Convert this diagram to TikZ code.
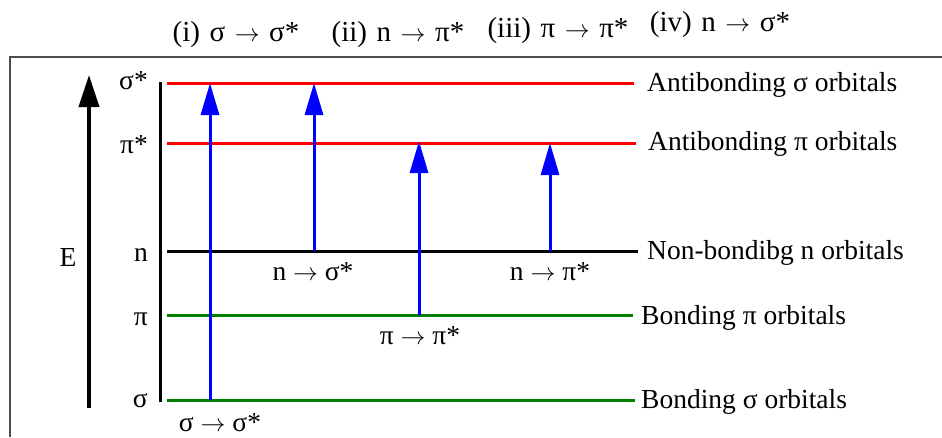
\documentclass[tikz,border=0pt]{standalone}
\usepackage{fontspec}
\setmainfont{Liberation Serif}
\usetikzlibrary{arrows.meta}
\newcommand\myarr{\ensuremath{\rightarrow}}
\newcommand\tgap{\hspace{0.33em}}
\begin{document}
\begin{tikzpicture}[x=1pt,y=-1pt,
  lbl/.style={font=\fontsize{27.5}{30}\selectfont, inner sep=0pt},
  toplbl/.style={font=\fontsize{29}{32}\selectfont, inner sep=0pt},
  lvl/.style={line width=3pt},
  trans/.style={blue, line width=3pt, -{Triangle[length=32pt,width=18pt]}},
  frame/.style={line width=2pt, black!70},
]
\useasboundingbox (0,0) rectangle (942,437);
% frame
\coordinate (fb) at (10,437);
\coordinate (fc) at (10,57);
\coordinate (fr) at (942,57);
\draw[frame] (fb) -- (fc) -- (fr);

% top labels
\node[toplbl] (t1) at (236,35) {(i)\tgap σ\tgap\myarr\tgap σ*};
\node[toplbl] (t2) at (398,35) {(ii)\tgap n\tgap\myarr\tgap π*};
\node[toplbl] (t3) at (558,31) {(iii)\tgap π\tgap\myarr\tgap π*};
\node[toplbl] (t4) at (720,25) {(iv)\tgap n\tgap\myarr\tgap σ*};

% energy axis
\coordinate (eb) at (89,408);
\coordinate (et) at (89,75);
\draw[line width=4pt, -{Triangle[length=32pt,width=20pt]}] (eb) -- (et);
\node[lbl] (E) at (68,257) {E};

% vertical bar
\coordinate (vb) at (160,402);
\coordinate (vt) at (160,82);
\draw[line width=3pt] (vb) -- (vt);

% level labels
\node[lbl, anchor=east] (ls2) at (148,81) {σ*};
\node[lbl, anchor=east] (lp2) at (148,145) {π*};
\node[lbl, anchor=east] (ln) at (148,255) {n};
\node[lbl, anchor=east] (lp1) at (148,319) {π};
\node[lbl, anchor=east] (ls1) at (148,401) {σ};

% levels
\coordinate (S2a) at (167,83);  \coordinate (S2b) at (634,83);
\coordinate (P2a) at (167,143); \coordinate (P2b) at (636,143);
\coordinate (Na)  at (167,251); \coordinate (Nb)  at (638,251);
\coordinate (P1a) at (167,315); \coordinate (P1b) at (633,315);
\coordinate (S1a) at (167,400); \coordinate (S1b) at (635,400);
\draw[lvl, red] (S2a) -- (S2b);
\draw[lvl, red] (P2a) -- (P2b);
\draw[lvl, black] (Na) -- (Nb);
\draw[lvl, green!50!black] (P1a) -- (P1b);
\draw[lvl, green!50!black] (S1a) -- (S1b);

% right labels
\node[lbl, anchor=west] (rs2) at (647,85) {Antibonding σ orbitals};
\node[lbl, anchor=west] (rp2) at (648,144) {Antibonding π orbitals};
\node[lbl, anchor=west] (rn) at (647,253) {Non-bondibg n orbitals};
\node[lbl, anchor=west] (rp1) at (641,318) {Bonding π orbitals};
\node[lbl, anchor=west] (rs1) at (641,402) {Bonding σ orbitals};

% transitions
\coordinate (a1s) at (210,400); \coordinate (a1e) at (210,83);
\coordinate (a2s) at (314,251); \coordinate (a2e) at (314,83);
\coordinate (a3s) at (419,315); \coordinate (a3e) at (419,141);
\coordinate (a4s) at (550,251); \coordinate (a4e) at (550,143);
\draw[trans] (a1s) -- (a1e);
\draw[trans] (a2s) -- (a2e);
\draw[trans] (a3s) -- (a3e);
\draw[trans] (a4s) -- (a4e);

% transition labels
\node[lbl] (b2) at (313,272) {n \myarr{} σ*};
\node[lbl] (b4) at (550,272) {n \myarr{} π*};
\node[lbl] (b3) at (420,336) {π \myarr{} π*};
\node[lbl] (b1) at (220,423) {σ \myarr{} σ*};
\end{tikzpicture}
\end{document}
